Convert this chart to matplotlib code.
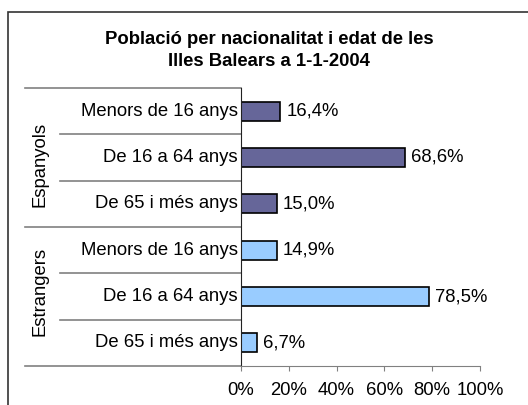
import matplotlib
matplotlib.use("Agg")
import matplotlib.pyplot as plt
from matplotlib.patches import Rectangle
import matplotlib.transforms as mtransforms

groups = ["Espanyols", "Estrangers"]
categories = ["Menors de 16 anys", "De 16 a 64 anys", "De 65 i més anys"]
espanyols = [16.4, 68.6, 15.0]
estrangers = [14.9, 78.5, 6.7]
xticks = [0, 20, 40, 60, 80, 100]
colors = ["#666699", "#99CCFF"]

plt.rcParams['font.family'] = ['Liberation Sans', 'DejaVu Sans']

W, H = 528, 405
fig = plt.figure(figsize=(W / 100, H / 100), dpi=100)

# outer frame (left and top visible)
fig.patches.append(Rectangle((8 / W, -0.1), 1.2, (H - 12) / H + 0.1, transform=fig.transFigure,
                             fill=False, edgecolor="#333333", linewidth=1.2))

FS = 13.3
fig.text(269 / W, 1 - 39 / H, "Població per nacionalitat i edat de les", ha="center", va="center",
         fontsize=FS, fontweight="bold")
fig.text(269 / W, 1 - 62 / H, "Illes Balears a 1-1-2004", ha="center", va="center",
         fontsize=FS, fontweight="bold")

left, right, top, bottom = 241, 480, 88, 366
ax = fig.add_axes([left / W, 1 - bottom / H, (right - left) / W, (bottom - top) / H])

series = [espanyols, estrangers]
labels = []
vals = []
cols = []
for gi, s in enumerate(series):
    for ci, v in enumerate(s):
        labels.append(categories[ci])
        vals.append(v)
        cols.append(colors[gi])
n = len(vals)
ypos = list(range(n))
ax.barh(ypos, vals, height=0.41, color=cols, edgecolor="black", linewidth=1.2)
ax.set_ylim(n - 0.5, -0.5)
ax.set_xlim(0, 100)

for y, v in zip(ypos, vals):
    ax.annotate(f"{v:.1f}%".replace(".", ","), (v, y), xytext=(4.5, 0), textcoords="offset points",
                ha="left", va="center", fontsize=FS)

ax.set_yticks([])
ax.set_xticks(xticks)
ax.set_xticklabels([f"{t}%" for t in xticks], fontsize=FS)
ax.tick_params(axis="x", direction="out", length=3.6, color="#808080", pad=8)
for sp in ["top", "right"]:
    ax.spines[sp].set_visible(False)
ax.spines["bottom"].set_color("#808080")
ax.spines["left"].set_color("#222222")

# category labels
for y, lab in zip(ypos, labels):
    ax.text(-3 / (right - left) * 100, y, lab, ha="right", va="center", fontsize=FS, clip_on=False)

# separators
trans = mtransforms.blended_transform_factory(fig.transFigure, ax.transData)
for b in [x - 0.5 for x in range(n + 1)]:
    if b in (-0.5, 2.5, n - 0.5):
        x0 = 25 / W
    else:
        x0 = 60 / W
    col = "#808080"
    ax.plot([x0, left / W], [b, b], transform=trans, color=col, linewidth=1.2, clip_on=False)

# group labels
group_centers = [1.14, 3.88]
for g, yc in zip(groups, group_centers):
    ax.text(40 / W, yc, g, transform=trans, rotation=90, ha="center", va="center",
            fontsize=FS, clip_on=False)

fig.savefig("out.png", dpi=100)
